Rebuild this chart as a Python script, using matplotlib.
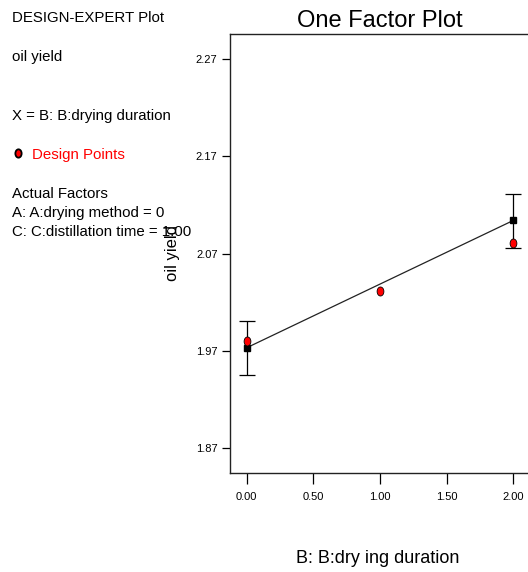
import numpy as np
import matplotlib
matplotlib.use('Agg')
import matplotlib.pyplot as plt
from matplotlib.path import Path
from matplotlib.transforms import Affine2D

plt.rcParams['font.family'] = ['Liberation Sans', 'DejaVu Sans']

# design points (actual runs)
design_x = [0.0, 1.0, 2.0]
design_y = [1.980, 2.031, 2.081]

# predicted values at the factor levels with LSD bars
pred_x = [0.0, 2.0]
pred_y = [1.973, 2.104]
pred_low = [1.945, 2.076]
pred_high = [2.000, 2.131]

xticks = [0.0, 0.5, 1.0, 1.5, 2.0]
yticks = [1.87, 1.97, 2.07, 2.17, 2.27]

W, H = 528, 572
fig = plt.figure(figsize=(W / 100, H / 100), dpi=100)

def fx(px):
    return px / W

def fy(py):
    return 1 - py / H

ax = fig.add_axes([fx(230), fy(473), fx(300), 439 / H])

# ellipse marker for design points
ell = Path.unit_circle().transformed(Affine2D().scale(0.75, 1.0))

ax.plot(pred_x, pred_y, color='#222222', lw=0.9, zorder=2)
err = [np.array(pred_y) - np.array(pred_low), np.array(pred_high) - np.array(pred_y)]
ax.errorbar(pred_x, pred_y, yerr=err, fmt='none', ecolor='black', elinewidth=0.9,
            capsize=6, capthick=0.9, zorder=3)
ax.plot(pred_x, pred_y, ls='none', marker='s', ms=4.5, color='black', zorder=4)
ax.plot(design_x, design_y, ls='none', marker=ell, ms=6.5, mfc='red', mec='black',
        mew=0.6, zorder=5)

ax.set_xlim(-0.126, 2.126)
ax.set_ylim(1.844, 2.296)
ax.set_xticks(xticks)
ax.set_xticklabels(['%.2f' % v for v in xticks])
ax.set_yticks(yticks)
ax.set_yticklabels(['%.2f' % v for v in yticks])
ax.tick_params(axis='x', direction='out', length=8, width=0.9, pad=6, labelsize=8)
ax.tick_params(axis='y', direction='out', length=6, width=0.9, pad=3, labelsize=8)
ax.spines['right'].set_visible(False)
for s in ['left', 'top', 'bottom']:
    ax.spines[s].set_linewidth(1.0)
    ax.spines[s].set_color('#222222')

ax.set_xlabel('B: B:dry ing duration', fontsize=13)
ax.xaxis.label.set_va('baseline')
ax.xaxis.set_label_coords((378 - 230) / 300, (473 - 563) / 439)
ax.set_ylabel('oil yield', fontsize=12)
ax.yaxis.label.set_va('center')
ax.yaxis.label.set_ha('center')
ax.yaxis.set_label_coords((172 - 230) / 300, (473 - 253) / 439)

fig.text(fx(380), fy(26.7), 'One Factor Plot', fontsize=17, ha='center', va='baseline')

# info panel on the left
fs = 10.8
fig.text(fx(12), fy(22), 'DESIGN-EXPERT Plot', fontsize=fs, va='baseline')
fig.text(fx(12), fy(61), 'oil yield', fontsize=fs, va='baseline')
fig.text(fx(12), fy(120), 'X = B: B:drying duration', fontsize=fs, va='baseline')
fig.lines.append(plt.Line2D([fx(18)], [fy(153)], transform=fig.transFigure, ls='none',
                            marker=ell, ms=6, mfc='red', mec='black', mew=1.3))
fig.text(fx(32), fy(159), 'Design Points', fontsize=fs, color='red', va='baseline')
fig.text(fx(12), fy(198), 'Actual Factors', fontsize=fs, va='baseline')
fig.text(fx(12), fy(217), 'A: A:drying method = 0', fontsize=fs, va='baseline')
fig.text(fx(12), fy(236), 'C: C:distillation time = 1.00', fontsize=fs, va='baseline')

fig.savefig('out.png', dpi=100)
